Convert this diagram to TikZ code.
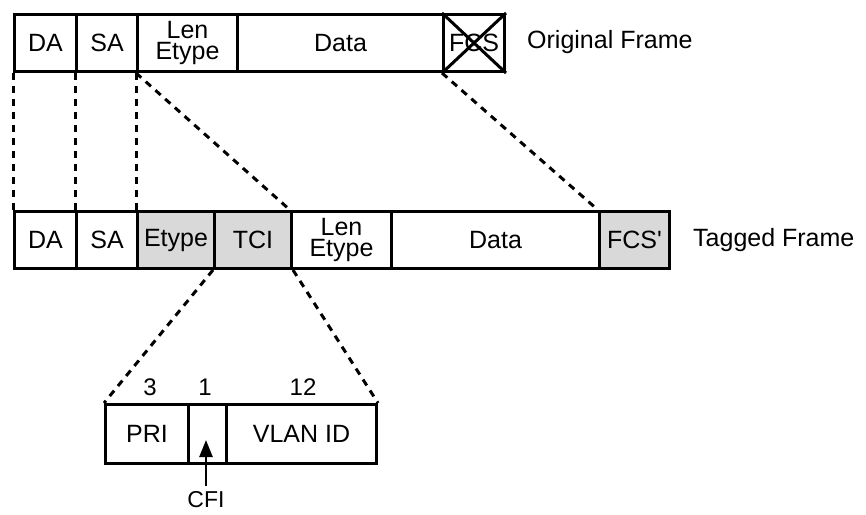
\documentclass[tikz,border=0pt]{standalone}
\usepackage{fontspec}
\setmainfont{Liberation Sans}
\usetikzlibrary{arrows.meta}
\definecolor{tagfill}{HTML}{D9D9D9}
\begin{document}
\begin{tikzpicture}[x=1pt,y=-1pt,
  fld/.style={draw, line width=3pt, inner sep=0pt, anchor=north west,
    minimum height=57pt, font=\fontsize{25}{20.5}\selectfont, align=center},
  tag/.style={fld, fill=tagfill},
  sub/.style={fld, minimum height=59pt},
  guide/.style={line width=3pt, dash pattern=on 7pt off 6pt},
  lbl/.style={font=\fontsize{25}{25}\selectfont, inner sep=0pt},
  num/.style={font=\fontsize{24}{24}\selectfont, inner sep=0pt}]
\useasboundingbox (0,0) rectangle (866,514);

% original frame
\node[fld, minimum width=62pt]  (oda)  at (13,13)  {DA};
\node[fld, minimum width=61pt]  (osa)  at (75,13)  {SA};
\node[fld, minimum width=100pt] (olen) at (136,13) {Len\\Etype};
\node[fld, minimum width=206pt] (odat) at (236,13) {Data};
\node[fld, minimum width=61pt]  (ofcs) at (442,13) {FCS};
\draw[line width=3pt] (ofcs.north west) -- (ofcs.south east)
                      (ofcs.south west) -- (ofcs.north east);
\node[lbl, anchor=west] (olab) at (527,42) {Original Frame};

% tagged frame
\node[fld, minimum width=62pt]  (tda)  at (13,210)  {DA};
\node[fld, minimum width=61pt]  (tsa)  at (75,210)  {SA};
\node[tag, minimum width=77pt]  (tet)  at (136,210) {Etype};
\node[tag, minimum width=77pt]  (tci)  at (213,210) {TCI};
\node[fld, minimum width=100pt] (tlen) at (290,210) {Len\\Etype};
\node[fld, minimum width=208pt] (tdat) at (390,210) {Data};
\node[tag, minimum width=70pt]  (tfcs) at (598,210) {FCS\textquotesingle};
\node[lbl, anchor=west] (tlab) at (693,240) {Tagged Frame};

% tag control information
\node[sub, minimum width=83pt]  (pri)  at (104,403) {PRI};
\node[sub, minimum width=38pt]  (cfib) at (187,403) {};
\node[sub, minimum width=150pt] (vid)  at (225,403) {VLAN ID};
\node[num] (n3)  at (150,387) {3};
\node[num] (n1)  at (205,387) {1};
\node[num] (n12) at (303,387) {12};
\node[num, anchor=north, font=\fontsize{23}{23}\selectfont] (cfi) at (206,491) {CFI};
\coordinate (cfitip) at (206,440);
\draw[line width=2.5pt, shorten <=5pt, -{Triangle[length=17pt,width=13pt]}] (cfi.north) -- (cfitip);

% correspondence guides
\draw[guide] (oda.south west) -- (tda.north west);
\draw[guide] (osa.south west) -- (tsa.north west);
\draw[guide] (olen.south west) -- (tet.north west);
\draw[guide] (olen.south west) -- (tlen.north west);
\draw[guide] (ofcs.south west) -- (tfcs.north west);
\draw[guide] (tci.south west) -- (pri.north west);
\draw[guide] (tci.south east) -- (vid.north east);
\end{tikzpicture}
\end{document}
